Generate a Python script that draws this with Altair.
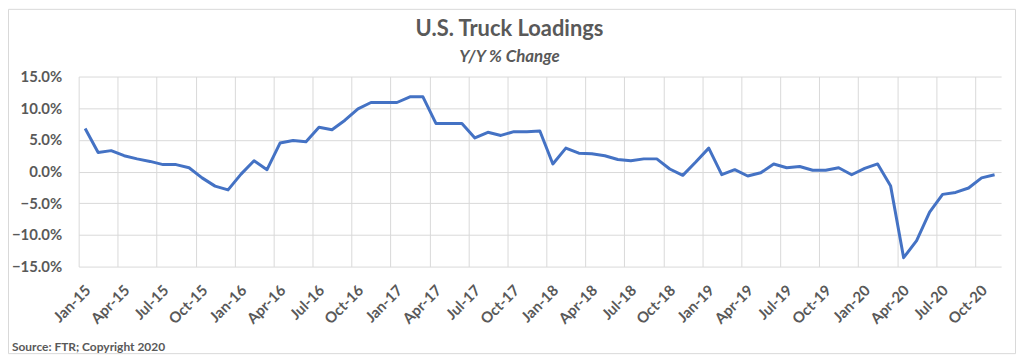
import json
import altair as alt
import pandas as pd

# ---- data ----
months = [f"{m}-{y:02d}" for y in range(15, 21) for m in
          ["Jan", "Feb", "Mar", "Apr", "May", "Jun", "Jul", "Aug", "Sep", "Oct", "Nov", "Dec"]][:71]
yoy_pct = [
    6.8, 3.0, 3.3, 2.5, 2.0, 1.6, 1.1, 1.1, 0.6, -1.0, -2.3, -2.9,
    -0.4, 1.7, 0.3, 4.5, 4.9, 4.7, 7.0, 6.6, 8.1, 9.9, 10.9, 10.9,
    10.9, 11.8, 11.8, 7.6, 7.6, 7.6, 5.3, 6.2, 5.7, 6.3, 6.3, 6.4,
    1.2, 3.7, 2.9, 2.8, 2.5, 1.9, 1.7, 2.0, 2.0, 0.4, -0.6, 1.5,
    3.7, -0.5, 0.3, -0.7, -0.2, 1.2, 0.6, 0.8, 0.2, 0.2, 0.6, -0.5,
    0.5, 1.2, -2.3, -13.6, -10.9, -6.4, -3.6, -3.3, -2.6, -1.0, -0.5,
]
tick_labels = ["Jan-15", "Apr-15", "Jul-15", "Oct-15", "Jan-16", "Apr-16", "Jul-16", "Oct-16",
               "Jan-17", "Apr-17", "Jul-17", "Oct-17", "Jan-18", "Apr-18", "Jul-18", "Oct-18",
               "Jan-19", "Apr-19", "Jul-19", "Oct-19", "Jan-20", "Apr-20", "Jul-20", "Oct-20"]
y_ticks = [-0.15, -0.10, -0.05, 0.0, 0.05, 0.10, 0.15]
title_text = "U.S. Truck Loadings"
subtitle_text = "Y/Y % Change"
source_text = "Source: FTR; Copyright 2020"

FONT = "Lato"
TXT = "#595959"
GRID = "#d9d9d9"
W, H = 927, 191
n = len(months)

df = pd.DataFrame({
    "month": months,
    "pos": [i + 0.5 for i in range(n)],   # centre of each month's category slot
    "value": [v / 100 for v in yoy_pct],
})

label_expr = f"{json.dumps(tick_labels)}[round(datum.value / 3)]"

x_scale = alt.Scale(domain=[0, n], nice=False, zero=False)
y_scale = alt.Scale(domain=[-0.15, 0.15], nice=False)

line = alt.Chart(df).mark_line(color="#4472C4", strokeWidth=3, strokeJoin="round").encode(
    x=alt.X("pos:Q", scale=x_scale, title=None,
            axis=alt.Axis(values=list(range(0, n, 3)), grid=True, gridColor=GRID,
                          ticks=False, domain=False, labelExpr=label_expr,
                          labelAngle=315, labelAlign="right", labelBaseline="middle",
                          labelPadding=21, labelOffset=9, labelFont=FONT, labelFontSize=15,
                          labelFontWeight="bold", labelColor=TXT, labelOverlap=False,
                          labelFlush=False, labelBound=False)),
    y=alt.Y("value:Q", scale=y_scale, title=None,
            axis=alt.Axis(values=y_ticks, format=".1%", grid=True, gridColor=GRID,
                          ticks=False, domain=False, labelPadding=17, labelFont=FONT,
                          labelFontSize=15, labelFontWeight="bold", labelColor=TXT)),
    tooltip=["month", alt.Tooltip("value:Q", format=".1%")],
)

title = alt.Chart(pd.DataFrame({"t": [title_text]})).mark_text(
    font=FONT, fontSize=22, fontWeight="bold", color=TXT, align="center", baseline="alphabetic"
).encode(text="t:N", x=alt.value(433), y=alt.value(-41))

subtitle = alt.Chart(pd.DataFrame({"t": [subtitle_text]})).mark_text(
    font=FONT, fontSize=17, fontWeight="bold", fontStyle="italic", color=TXT,
    align="center", baseline="alphabetic"
).encode(text="t:N", x=alt.value(433), y=alt.value(-15))

source = alt.Chart(pd.DataFrame({"t": [source_text]})).mark_text(
    font=FONT, fontSize=12, fontWeight="bold", color=TXT, align="left", baseline="alphabetic"
).encode(text="t:N", x=alt.value(-67), y=alt.value(276))

border = alt.Chart(pd.DataFrame({"t": [""]})).mark_rect(
    fill=None, stroke=GRID, strokeWidth=1
).encode(x=alt.value(-70.5), x2=alt.value(941.5), y=alt.value(-67.5), y2=alt.value(278.5))

chart = alt.layer(border, line, title, subtitle, source).properties(
    width=W, height=H,
    autosize=alt.AutoSizeParams(type="none"),
    padding={"left": 71, "top": 68, "right": 15, "bottom": 88},
    background="white",
).configure_view(stroke=None)

chart.save("out.html", embed_options={"renderer": "svg", "actions": False})
